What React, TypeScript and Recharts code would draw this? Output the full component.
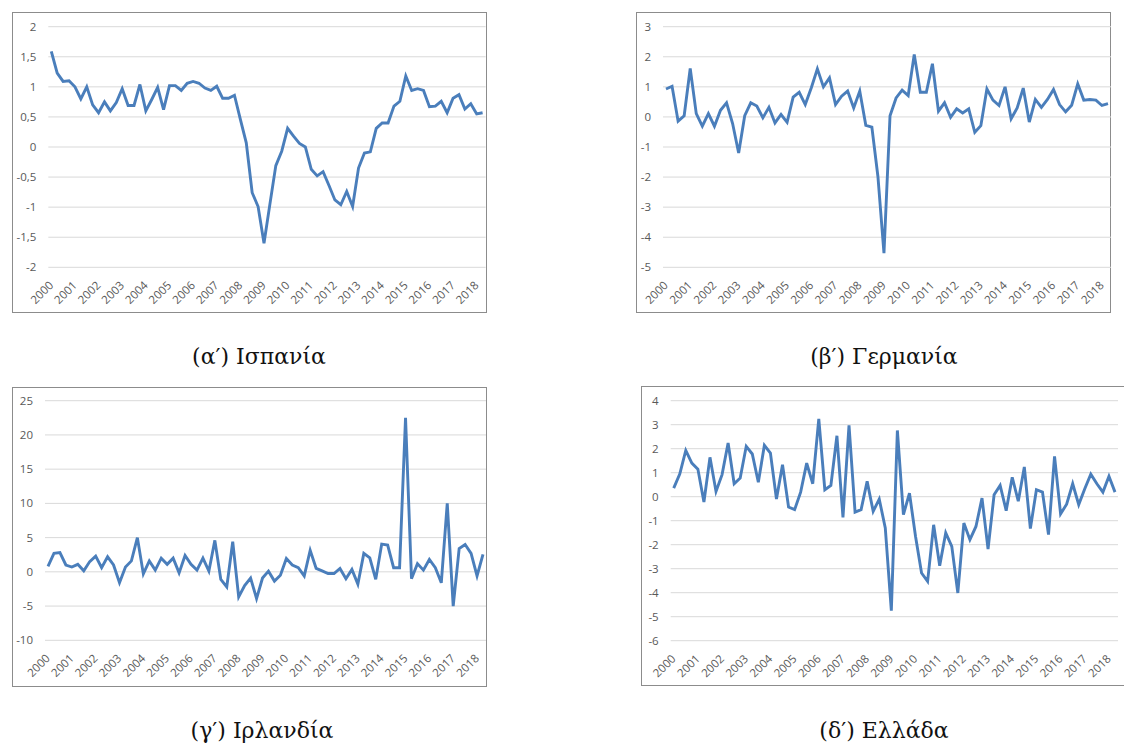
import { LineChart, Line, XAxis, YAxis, CartesianGrid } from 'recharts';

const years = [2000, 2001, 2002, 2003, 2004, 2005, 2006, 2007, 2008, 2009, 2010, 2011, 2012, 2013, 2014, 2015, 2016, 2017, 2018];
const quarters = ['Q1', 'Q2', 'Q3', 'Q4'];
const periods = years.flatMap(y => quarters.map(q => `${y}${q}`)).slice(0, 74); // 2000Q1 - 2018Q2

const spain = [
  1.59, 1.23, 1.09, 1.1, 1.0, 0.8, 1.0, 0.7, 0.57, 0.75,
  0.6, 0.74, 0.97, 0.69, 0.69, 1.04, 0.6, 0.79, 0.99, 0.62,
  1.02, 1.02, 0.94, 1.06, 1.09, 1.06, 0.98, 0.94, 1.01, 0.81,
  0.81, 0.86, 0.46, 0.07, -0.76, -0.99, -1.6, -0.95, -0.31, -0.07,
  0.31, 0.18, 0.06, 0.0, -0.37, -0.48, -0.41, -0.64, -0.88, -0.96,
  -0.74, -0.99, -0.35, -0.1, -0.08, 0.31, 0.4, 0.4, 0.68, 0.76,
  1.18, 0.94, 0.97, 0.94, 0.67, 0.68, 0.76, 0.57, 0.81, 0.87,
  0.63, 0.72, 0.55, 0.57,
];

const germany = [
  0.93, 1.02, -0.14, 0.04, 1.61, 0.11, -0.31, 0.11, -0.31, 0.22,
  0.47, -0.22, -1.2, 0.04, 0.47, 0.36, -0.03, 0.32, -0.2, 0.08,
  -0.18, 0.66, 0.82, 0.41, 0.97, 1.6, 1.0, 1.3, 0.41, 0.69,
  0.86, 0.3, 0.86, -0.28, -0.34, -1.98, -4.53, 0.04, 0.63, 0.89,
  0.71, 2.08, 0.82, 0.82, 1.77, 0.19, 0.47, -0.01, 0.27, 0.13,
  0.27, -0.51, -0.29, 0.93, 0.56, 0.38, 1.0, -0.06, 0.3, 0.96,
  -0.17, 0.58, 0.32, 0.58, 0.91, 0.41, 0.17, 0.39, 1.1, 0.56,
  0.58, 0.56, 0.38, 0.44,
];

const ireland = [
  0.8, 2.7, 2.8, 1.0, 0.7, 1.1, 0.15, 1.5, 2.3, 0.6,
  2.2, 1.0, -1.6, 0.7, 1.6, 5.0, -0.3, 1.6, 0.25, 2.0,
  1.1, 2.0, -0.15, 2.4, 1.1, 0.25, 2.0, 0.1, 4.6, -1.1,
  -2.2, 4.4, -3.65, -2.0, -0.9, -3.9, -0.9, 0.1, -1.35, -0.5,
  1.95, 1.0, 0.6, -0.6, 3.15, 0.5, 0.15, -0.25, -0.25, 0.5,
  -1.0, 0.35, -1.8, 2.7, 2.05, -1.1, 4.05, 3.9, 0.6, 0.6,
  22.5, -1.0, 1.2, 0.25, 1.8, 0.6, -1.6, 10.0, -5.0, 3.4,
  4.0, 2.7, -0.6, 2.55,
];

const greece = [
  0.36, 0.94, 1.93, 1.4, 1.15, -0.22, 1.64, 0.22, 0.92, 2.24,
  0.54, 0.78, 2.1, 1.78, 0.6, 2.14, 1.82, -0.1, 1.33, -0.43,
  -0.54, 0.19, 1.4, 0.54, 3.24, 0.29, 0.47, 2.54, -0.86, 2.97,
  -0.64, -0.54, 0.64, -0.61, -0.1, -1.3, -4.75, 2.76, -0.75, 0.15,
  -1.65, -3.18, -3.53, -1.17, -2.88, -1.51, -2.07, -4.01, -1.1, -1.79,
  -1.24, -0.06, -2.18, 0.08, 0.47, -0.58, 0.81, -0.19, 1.24, -1.33,
  0.29, 0.19, -1.58, 1.68, -0.72, -0.31, 0.54, -0.33, 0.33, 0.94,
  0.54, 0.19, 0.85, 0.19,
];

const spainTicks = [-2, -1.5, -1, -0.5, 0, 0.5, 1, 1.5, 2];
const germanyTicks = [-5, -4, -3, -2, -1, 0, 1, 2, 3];
const irelandTicks = [-10, -5, 0, 5, 10, 15, 20, 25];
const greeceTicks = [-6, -5, -4, -3, -2, -1, 0, 1, 2, 3, 4];

const captions = ['(α′) Ισπανία', '(β′) Γερμανία', '(γ′) Ιρλανδία', '(δ′) Ελλάδα'];

const LINE = '#4a7ebb';
const TICK = { fontSize: 11.5, fill: '#595959', fontFamily: 'Open Sans, sans-serif' };

interface PanelProps {
  values: number[];
  ticks: number[];
  left: number;
  top: number;
  width: number;
  height: number;
  yWidth: number;
  margin: { top: number; right: number; bottom: number; left: number };
}

function Panel({ values, ticks, left, top, width, height, yWidth, margin }: PanelProps) {
  const data = periods.map((p, i) => ({ period: p, value: values[i] }));
  return (
    <div style={{ position: 'absolute', left, top, width, height }}>
      <div style={{ position: 'absolute', inset: 0, border: '1px solid #8c8c8c', boxSizing: 'border-box' }} />
      <div style={{ position: 'absolute', left: 0, top: 0 }}>
        <LineChart width={width} height={height} data={data} margin={margin}>
          <CartesianGrid vertical={false} stroke="#d9d9d9" />
          <XAxis
            dataKey="period"
            interval={3}
            tickFormatter={(v: string) => v.slice(0, 4)}
            angle={-45}
            textAnchor="end"
            tick={TICK}
            tickLine={false}
            axisLine={false}
            tickSize={0}
            tickMargin={13}
            dx={-3}
            height={40}
            padding={{ left: 3, right: 3 }}
          />
          <YAxis
            type="number"
            domain={[ticks[0], ticks[ticks.length - 1]]}
            ticks={ticks}
            interval={0}
            tickFormatter={(v: number) => String(v).replace('.', ',')}
            tick={TICK}
            tickLine={false}
            axisLine={false}
            tickSize={0}
            tickMargin={12}
            width={yWidth}
          />
          <Line type="linear" dataKey="value" stroke={LINE} strokeWidth={2.9} dot={false} isAnimationActive={false} />
        </LineChart>
      </div>
    </div>
  );
}

const captionStyle = {
  position: 'absolute' as const,
  width: 320,
  textAlign: 'center' as const,
  fontFamily: 'DejaVu Serif, serif',
  fontSize: 22,
  lineHeight: '30px',
  color: '#111',
};

export default function App() {
  return (
    <div style={{ position: 'absolute', left: 0, top: 0, width: 1124, height: 746, overflow: 'hidden', background: '#fff' }}>
      <Panel values={spain} ticks={spainTicks} left={12} top={12} width={475} height={301} yWidth={36.3}
        margin={{ top: 14.7, right: 1.4, bottom: 5.7, left: 0 }} />
      <Panel values={germany} ticks={germanyTicks} left={636} top={12} width={475} height={301} yWidth={27}
        margin={{ top: 14.7, right: 0, bottom: 5.7, left: 0 }} />
      <Panel values={ireland} ticks={irelandTicks} left={12} top={387} width={475} height={300} yWidth={33}
        margin={{ top: 13.7, right: 1, bottom: 6.7, left: 0 }} />
      <Panel values={greece} ticks={greeceTicks} left={641} top={386} width={490} height={300} yWidth={29.7}
        margin={{ top: 14.7, right: 13, bottom: 5.3, left: 0 }} />

      <div style={{ ...captionStyle, left: 259 - 160, top: 342 }}>{captions[0]}</div>
      <div style={{ ...captionStyle, left: 884 - 160, top: 342 }}>{captions[1]}</div>
      <div style={{ ...captionStyle, left: 262 - 160, top: 716 }}>{captions[2]}</div>
      <div style={{ ...captionStyle, left: 884 - 160, top: 716 }}>{captions[3]}</div>
    </div>
  );
}
